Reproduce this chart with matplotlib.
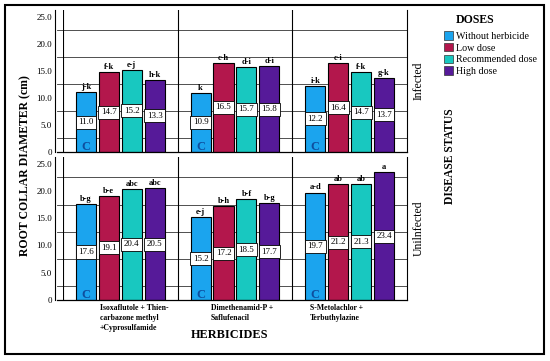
import matplotlib
matplotlib.use('Agg')
import numpy as np
import matplotlib.pyplot as plt
from matplotlib.patches import Patch, Rectangle

plt.rcParams['font.family'] = ['Liberation Serif', 'DejaVu Serif']

# data
herbicides = ['Isoxaflutole + Thien-\ncarbazone methyl\n+Cyprosulfamide',
              'Dimethenamid-P +\nSaflufenacil',
              'S-Metolachlor +\nTerbuthylazine']
doses = ['Without herbicide', 'Low dose', 'Recommended dose', 'High dose']
colors = ['#1BA4EE', '#B3174C', '#18C8C0', '#561A99']

infected = [[11.0, 14.7, 15.2, 13.3],
            [10.9, 16.5, 15.7, 15.8],
            [12.2, 16.4, 14.7, 13.7]]
infected_letters = [['j-k', 'f-k', 'e-j', 'h-k'],
                    ['k', 'c-h', 'd-i', 'd-i'],
                    ['i-k', 'c-i', 'f-k', 'g-k']]

uninfected = [[17.6, 19.1, 20.4, 20.5],
              [15.2, 17.2, 18.5, 17.7],
              [19.7, 21.2, 21.3, 23.4]]
uninfected_letters = [['b-g', 'b-e', 'abc', 'abc'],
                      ['e-j', 'b-h', 'b-f', 'b-g'],
                      ['a-d', 'ab', 'ab', 'a']]

yticks = [0, 5, 10, 15, 20, 25]
ytick_labels = ['0', '5.0', '10.0', '15.0', '20.0', '25.0']

fig = plt.figure(figsize=(5.5, 3.61), dpi=100)

# outer frame
fig.patches.append(Rectangle((0.009, 0.019), 0.98, 0.967, transform=fig.transFigure,
                             fill=False, edgecolor='black', linewidth=1.5))

ax1 = fig.add_axes([0.1145, 0.579, 0.6255, 0.393])
ax2 = fig.add_axes([0.1145, 0.169, 0.6255, 0.396])

bar_w = 0.175
offsets = np.array([-0.3, -0.1, 0.1, 0.3])
centers = np.array([0.5, 1.5, 2.5])

def draw_panel(ax, values, letters, status):
    vals = np.array(values)
    for j in range(len(doses)):
        xs = centers + offsets[j]
        ax.bar(xs, vals[:, j], width=bar_w, color=colors[j], edgecolor='black',
               linewidth=0.8, zorder=3)
        for i in range(len(herbicides)):
            v = vals[i, j]
            ax.text(xs[i], v / 2, '%.1f' % v, ha='center', va='center', fontsize=6.5,
                    zorder=5, bbox=dict(boxstyle='square,pad=0.28', fc='white',
                                        ec='black', lw=0.6))
            ax.text(xs[i], v + 0.2, letters[i][j], ha='center', va='bottom',
                    fontsize=6, fontweight='bold', zorder=5)
    for i in range(len(herbicides)):
        ax.text(centers[i] + offsets[0], 0.9, 'C', ha='center', va='center',
                fontsize=9, fontweight='bold', color='#0E4E9E', zorder=5)

    ax.set_xlim(0, 3)
    ax.set_ylim(0, 26.2)
    for g in [2.5, 7.5, 12.5, 17.5, 22.5]:
        ax.axhline(g, xmin=-0.0174, xmax=1, color='#333333', linewidth=0.6,
                   zorder=1, clip_on=False)
    ax.axhline(0, xmin=-0.0174, xmax=1, color='black', linewidth=0.9,
               zorder=4, clip_on=False)
    for b in [0, 1, 2]:
        ax.axvline(b, color='black', linewidth=0.8, zorder=1)
    ax.spines['top'].set_visible(False)
    ax.spines['bottom'].set_visible(False)
    ax.spines['right'].set_linewidth(0.8)
    ax.spines['left'].set_position(('outward', 6))
    ax.spines['left'].set_linewidth(0.8)
    ax.set_yticks(yticks)
    ax.set_yticklabels(ytick_labels, fontsize=6.5)
    ax.tick_params(axis='y', length=0, pad=2)
    ax.set_xticks([])
    ax.text(1.035, 0.5, status, transform=ax.transAxes, rotation=90,
            ha='center', va='center', fontsize=8.5)

draw_panel(ax1, infected, infected_letters, 'Infected')
draw_panel(ax2, uninfected, uninfected_letters, 'Unilnfected')

label_x = [0.32, 1.29, 2.15]
for i, name in enumerate(herbicides):
    ax2.text(label_x[i], -0.03, name, transform=ax2.get_xaxis_transform(),
             ha='left', va='top', fontsize=5.6, fontweight='bold', linespacing=1.3)

fig.text(0.046, 0.54, 'ROOT COLLAR DIAMETER (cm)', rotation=90, ha='center',
         va='center', fontsize=8.5, fontweight='bold')
fig.text(0.417, 0.072, 'HERBICIDES', ha='center', va='center', fontsize=8.8,
         fontweight='bold')
fig.text(0.818, 0.568, 'DISEASE STATUS', rotation=90, ha='center', va='center',
         fontsize=8.4, fontweight='bold')

# legend
fig.text(0.864, 0.945, 'DOSES', ha='center', va='center', fontsize=8.5,
         fontweight='bold')
handles = [Patch(facecolor=c, edgecolor='#333333', linewidth=0.5) for c in colors]
leg = fig.legend(handles, doses, loc='upper left', bbox_to_anchor=(0.807, 0.913),
                 frameon=False, fontsize=7.2, handlelength=0.9, handleheight=0.9,
                 handletextpad=0.35, labelspacing=0.2, borderaxespad=0, borderpad=0)

fig.savefig('out.png', dpi=100)
